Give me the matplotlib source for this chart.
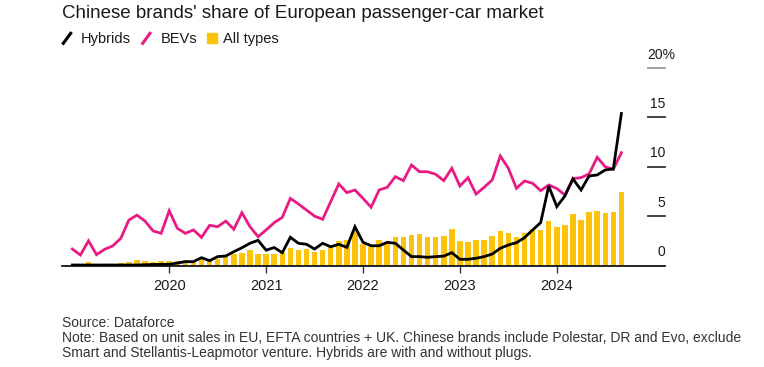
import numpy as np
import pandas as pd
import matplotlib
matplotlib.use("Agg")
import matplotlib.pyplot as plt
from matplotlib.lines import Line2D
from matplotlib.patches import Rectangle

plt.rcParams['font.family'] = ['Liberation Sans', 'DejaVu Sans']

# monthly data, Jan 2019 - Sep 2024 (% share)
months = pd.date_range("2019-01-01", periods=69, freq="MS")

hybrids = [0.05, 0.05, 0.05, 0.05, 0.05, 0.05, 0.05, 0.05, 0.05, 0.08, 0.1, 0.12,
           0.12, 0.25, 0.39, 0.39, 0.79, 0.49, 0.9, 0.96, 1.4, 1.8, 2.25, 2.55,
           1.55, 1.82, 1.3, 2.86, 2.25, 2.15, 1.67, 2.25, 1.9, 2.15, 1.84, 3.93,
           2.35, 2.0, 2.0, 2.35, 2.25, 1.57, 0.9, 0.9, 0.83, 0.9, 0.95, 1.3,
           0.63, 0.63, 0.73, 0.9, 1.16, 1.74, 2.08, 2.31, 2.82, 3.6, 4.34, 8.05,
           5.96, 7.04, 8.77, 7.65, 9.07, 9.17, 9.68, 9.78, 15.4]

bevs = [1.67, 1.06, 2.5, 1.1, 1.64, 1.98, 2.75, 4.6, 5.1, 4.5, 3.5, 3.26,
        5.55, 3.77, 3.26, 3.6, 2.85, 4.07, 3.93, 4.5, 3.67, 5.35, 3.93, 2.92,
        3.6, 4.34, 4.88, 6.8, 6.23, 5.62, 5.0, 4.68, 6.47, 8.26, 7.38, 7.65,
        6.8, 5.9, 7.65, 7.92, 9.0, 8.6, 10.18, 9.5, 9.5, 9.24, 8.6, 9.85,
        8.05, 8.9, 7.24, 7.92, 8.66, 11.1, 9.85, 7.82, 8.56, 8.33, 7.58, 8.16,
        7.8, 7.14, 8.8, 8.9, 9.27, 10.96, 10.0, 9.75, 11.43]

all_types = [0.1, 0.12, 0.38, 0.12, 0.12, 0.2, 0.25, 0.37, 0.58, 0.45, 0.37, 0.5,
             0.47, 0.47, 0.52, 0.47, 0.62, 0.55, 0.63, 0.9, 1.2, 1.27, 1.53, 1.16,
             1.2, 1.16, 1.37, 1.74, 1.53, 1.67, 1.4, 1.57, 2.0, 2.48, 2.55, 3.45,
             2.17, 1.86, 2.55, 2.35, 2.86, 2.92, 3.05, 3.15, 2.9, 2.85, 2.95, 3.68,
             2.48, 2.4, 2.58, 2.58, 2.98, 3.5, 3.33, 2.9, 3.28, 3.7, 3.6, 4.5,
             3.93, 4.12, 5.19, 4.6, 5.39, 5.52, 5.29, 5.39, 7.42]

y_ticks = [0, 5, 10, 15, 20]

PINK = '#ea1a85'
YELLOW = '#fbc30a'
TEXT = '#1a1a1a'

W, H = 764, 367
fig = plt.figure(figsize=(W / 100, H / 100), dpi=100)
ax = fig.add_axes([62 / W, 1 - 265.5 / H, 603 / W, (265.5 - 58.2) / H])

x = np.arange(len(months))
ax.bar(x, all_types, width=0.68, color=YELLOW, zorder=1)
ax.plot(x, bevs, color=PINK, lw=2.0, zorder=2, solid_joinstyle='miter')
ax.plot(x, hybrids, color='black', lw=2.0, zorder=3, solid_joinstyle='miter')

ax.set_xlim(-1.28, 73.4)
ax.set_ylim(0, 21)

for s in ['top', 'right', 'left']:
    ax.spines[s].set_visible(False)
ax.spines['bottom'].set_color('black')
ax.spines['bottom'].set_linewidth(1.2)
ax.set_yticks([])

year_idx = [i for i, m in enumerate(months) if m.month == 1 and m.year >= 2020]
ax.set_xticks(year_idx)
ax.set_xticklabels([str(months[i].year) for i in year_idx])
ax.tick_params(axis='x', length=5, width=1, color='#333333', pad=5,
               labelsize=10.5, labelcolor=TEXT)

# right-hand value labels with short rules
tr = ax.get_yaxis_transform()
for v in y_ticks:
    if v > 0:
        ax.plot([0.971, 1.0], [v, v], transform=tr, clip_on=False,
                color='#999999' if v == 20 else '#333333', lw=1.3)
    if v == 20:
        ax.text(0.971, v + 0.95, f"{v}%", transform=tr, ha='left',
                va='baseline', fontsize=10, color=TEXT)
    else:
        ax.text(1.0, v + 0.95, str(v), transform=tr, ha='right',
                va='baseline', fontsize=10, color=TEXT)

# title and legend
fig.text(62 / W, 1 - 18.3 / H, "Chinese brands' share of European passenger-car market",
         fontsize=13.5, color=TEXT, va='baseline')

def fy(p):
    return 1 - p / H

fig.add_artist(Line2D([63.3 / W, 70.7 / W], [fy(43.3), fy(33.3)], color='black', lw=2.2))
fig.text(81 / W, fy(42.7), "Hybrids", fontsize=10.5, color=TEXT, va='baseline')
fig.add_artist(Line2D([142.7 / W, 150 / W], [fy(43.3), fy(33.3)], color=PINK, lw=2.2))
fig.text(160.7 / W, fy(42.7), "BEVs", fontsize=10.5, color=TEXT, va='baseline')
fig.add_artist(Rectangle((207.3 / W, fy(42.7)), 9.4 / W, 9.4 / H, color=YELLOW,
                         transform=fig.transFigure))
fig.text(222.7 / W, fy(42.7), "All types", fontsize=10.5, color=TEXT, va='baseline')

# footer
foot = ["Source: Dataforce",
        "Note: Based on unit sales in EU, EFTA countries + UK. Chinese brands include Polestar, DR and Evo, exclude",
        "Smart and Stellantis-Leapmotor venture. Hybrids are with and without plugs."]
for k, line in enumerate(foot):
    fig.text(62 / W, fy(323 + 15 * k), line, fontsize=10, color='#333333', va='center')

fig.savefig("out.png", dpi=100)
